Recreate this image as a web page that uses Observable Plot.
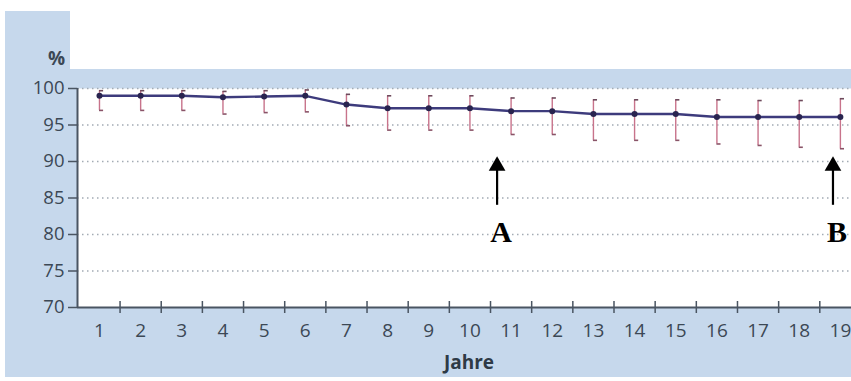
<!DOCTYPE html>
<html>
<head>
<meta charset="utf-8">
<script src="https://cdn.jsdelivr.net/npm/d3@7"></script>
<script src="https://cdn.jsdelivr.net/npm/@observablehq/plot@0.6"></script>
<style>
  body { margin: 0; background: #ffffff; }
  #wrap { position: relative; width: 851px; height: 381px; overflow: hidden; font-family: "Open Sans", sans-serif; }
  #bg { position: absolute; left: 5px; top: 11px; width: 846px; height: 366px; background: #c6d8ec; }
  #topwhite { position: absolute; left: 70px; top: 0; width: 781px; height: 69px; background: #ffffff; }
  #chart { position: absolute; left: 0; top: 0; }
  #pct { position: absolute; right: 786px; top: 45px; font-size: 19px; font-weight: 700; color: #3c4855; }
  #xlabel { position: absolute; left: 0; width: 938px; text-align: center; top: 349px; font-size: 19px; font-weight: 700; color: #2e3a46; }
</style>
</head>
<body>
<div id="wrap">
  <div id="bg"></div>
  <div id="topwhite"></div>
  <div id="chart"></div>
  <div id="pct">%</div>
  <div id="xlabel">Jahre</div>
</div>
<script>
// ---- data ----
const years  = [1, 2, 3, 4, 5, 6, 7, 8, 9, 10, 11, 12, 13, 14, 15, 16, 17, 18, 19];
const mean   = [99.0, 99.0, 99.0, 98.8, 98.9, 99.0, 97.8, 97.3, 97.3, 97.3, 96.9, 96.9, 96.5, 96.5, 96.5, 96.1, 96.1, 96.1, 96.1];
const upper  = [99.7, 99.7, 99.7, 99.6, 99.7, 99.8, 99.2, 99.0, 99.0, 99.0, 98.7, 98.7, 98.45, 98.45, 98.45, 98.45, 98.35, 98.35, 98.6];
const lower  = [97.0, 97.0, 97.0, 96.5, 96.7, 96.8, 94.9, 94.3, 94.3, 94.3, 93.7, 93.7, 92.9, 92.9, 92.9, 92.4, 92.2, 91.95, 91.75];
const yTicks = [70, 75, 80, 85, 90, 95, 100];
const gridValues = [75, 80, 85, 90, 95, 100];
const markLabels = ["A", "B"];
const markYears  = [10.66, 18.82];
const arrowTail = 84.0, arrowHead = 89.4, labelBase = 79.0;

const data = years.map((y, i) => ({year: y, mean: mean[i], upper: upper[i], lower: lower[i]}));
const bounds = years.slice(0, -1).map(y => y + 0.5);
const notes = markLabels.map((l, i) => ({label: l, year: markYears[i]}));
const xDomain = [0.466, 19.27];

const chart = Plot.plot({
  width: 851,
  height: 381,
  marginTop: 88,
  marginBottom: 74,
  marginLeft: 77,
  marginRight: 0,
  style: { background: "transparent", color: "#3c4855", fontFamily: "'Open Sans', sans-serif" },
  x: { domain: xDomain, axis: null },
  y: { domain: [70, 100], axis: null },
  marks: [
    Plot.frame({ fill: "white" }),
    Plot.ruleY(gridValues, { stroke: "#a3abb4", strokeWidth: 1.3, strokeDasharray: "1.5,3.5" }),
    Plot.axisY({ ticks: yTicks, tickSize: 9, tickPadding: 4, fontSize: 18.5, label: null, stroke: "#4a5562", strokeWidth: 1.5 }),
    Plot.axisX({ ticks: years, tickSize: 0, tickPadding: 16, fontSize: 19, label: null }),
    Plot.axisX({ ticks: bounds, tickSize: 12, dy: -6, tickFormat: () => "", label: null, stroke: "#4a5562", strokeWidth: 1.5 }),
    Plot.ruleY([70], { stroke: "#4a5562", strokeWidth: 2 }),
    Plot.ruleX([xDomain[0]], { stroke: "#4a5562", strokeWidth: 2 }),
    // error bars
    Plot.ruleX(data, { x: "year", y1: "lower", y2: "upper", stroke: "#c8738b", strokeWidth: 1.4 }),
    Plot.ruleY(data, { y: "upper", x1: "year", x2: d => d.year + 0.1, stroke: "#6e4a5c", strokeWidth: 1.6 }),
    Plot.ruleY(data, { y: "lower", x1: "year", x2: d => d.year + 0.1, stroke: "#8a5468", strokeWidth: 1.6 }),
    // mean line
    Plot.line(data, { x: "year", y: "mean", stroke: "#3d3b7c", strokeWidth: 2.4 }),
    Plot.dot(data, { x: "year", y: "mean", r: 3, fill: "#29244f" }),
    // annotations
    Plot.ruleX(notes, { x: "year", y1: arrowTail, y2: arrowHead, stroke: "black", strokeWidth: 2.2 }),
    Plot.dot(notes, { x: "year", y: arrowHead, symbol: "triangle", r: 6.2, fill: "black" }),
    Plot.text(notes, { x: "year", y: labelBase, text: "label", dx: 4, lineAnchor: "bottom", fontSize: 30, fontWeight: "bold", fontFamily: "'Liberation Serif', serif", fill: "black" })
  ]
});
document.getElementById("chart").appendChild(chart);
</script>
</body>
</html>
